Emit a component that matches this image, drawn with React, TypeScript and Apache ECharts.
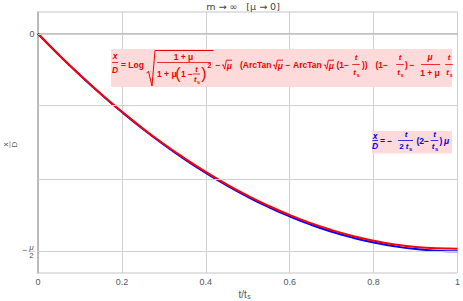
import React, { useEffect, useRef } from "react";
import * as echarts from "echarts";

// ---- data (y in units of μ/2) ----
const tau = [0, 0.05, 0.1, 0.15, 0.2, 0.25, 0.3, 0.35, 0.4, 0.45, 0.5, 0.55, 0.6, 0.65, 0.7, 0.75, 0.8, 0.85, 0.9, 0.95, 1];
const blueVals = [0, -0.0975, -0.19, -0.2775, -0.36, -0.4375, -0.51, -0.5775, -0.64, -0.6975, -0.75, -0.7975, -0.84, -0.8775, -0.91, -0.9375, -0.96, -0.9775, -0.99, -0.9975, -1];
const redVals = [0, -0.0974, -0.1895, -0.2765, -0.3585, -0.4355, -0.507, -0.5735, -0.6355, -0.6925, -0.7445, -0.7915, -0.8335, -0.8705, -0.9025, -0.9295, -0.9515, -0.9685, -0.9805, -0.9865, -0.988];
const xTickValues = [0, 0.2, 0.4, 0.6, 0.8, 1];
const yGridValues = [0, -1 / 3, -2 / 3, -1];
const yTickZero = "0";
const titleText = "m → ∞   [μ → 0]";

const FONT = '"Liberation Sans", Arial, sans-serif';
const RED = "#ee0000";
const BLUE = "#0000ee";
const GRAY = "#555555";
const GRIDC = "#d0d0d0";

type O = { color?: string; size?: number; weight?: string; italic?: boolean; align?: string; family?: string };
function txt(text: string, x: number, y: number, o: O = {}) {
  const align = o.align ?? "center";
  return {
    type: "text", x, y, silent: true, z: 101,
    style: {
      text, fill: o.color ?? GRAY, fontSize: o.size ?? 8.5, fontWeight: o.weight ?? "bold",
      fontStyle: o.italic ? "italic" : "normal", fontFamily: o.family ?? FONT,
      align, verticalAlign: "middle", textAlign: align, textVerticalAlign: "middle",
    },
  };
}
function ln(x1: number, y1: number, x2: number, y2: number, color: string, w = 0.8) {
  return { type: "line", silent: true, z: 101, shape: { x1, y1, x2, y2 }, style: { stroke: color, lineWidth: w } };
}
function poly(points: number[][], color: string, w = 0.9) {
  return { type: "polyline", silent: true, z: 101, shape: { points }, style: { stroke: color, lineWidth: w, fill: null } };
}
function tSub(cx: number, y: number, color: string, size = 8) {
  return [
    txt("t", cx - 1.3, y, { color, size, italic: true }),
    txt("s", cx + 2, y + 2, { color, size: size * 0.72 }),
  ];
}
function fracT(cx: number, yTop: number, yBar: number, yBot: number, color: string, size = 8) {
  return [
    txt("t", cx, yTop, { color, size, italic: true }),
    ln(cx - 3.8, yBar, cx + 3.8, yBar, color),
    ...tSub(cx, yBot, color, size),
  ];
}
function sqrtMu(x: number, y: number, color: string) {
  return [
    poly([[x, y + 0.5], [x + 1.2, y - 0.3], [x + 2.7, y + 4.2], [x + 4.3, y - 4.8], [x + 10, y - 4.8]], color),
    txt("μ", x + 7.2, y + 0.6, { color, italic: true }),
  ];
}

function redFormula() {
  const c = RED;
  const y = 64.5;
  return [
    { type: "rect", silent: true, z: 100, shape: { x: 111, y: 49, width: 341, height: 38 }, style: { fill: "#ffdada" } },
    txt("x", 115, 56, { color: c, italic: true }),
    ln(112, 62.5, 118, 62.5, c),
    txt("D", 115, 69.5, { color: c, italic: true }),
    txt("= Log", 121, y, { color: c, align: "left" }),
    poly([[146.5, 73], [148.5, 71.5], [152, 86], [155, 50.5], [213.5, 50.5]], c, 1),
    txt("1 + μ", 183.5, 56.5, { color: c }),
    ln(157, 62.5, 211, 62.5, c),
    txt("1 + μ", 157, 74, { color: c, align: "left" }),
    txt("(", 178, 73.5, { color: c, size: 16, weight: "normal" }),
    txt("1 −", 181, 74, { color: c, align: "left" }),
    txt("t", 196.5, 69, { color: c, size: 7.5, italic: true }),
    ln(193, 74, 200, 74, c),
    ...tSub(196.5, 79.5, c, 7.5),
    txt(")", 204, 73.5, { color: c, size: 16, weight: "normal" }),
    txt("2", 209.5, 65.5, { color: c, size: 7 }),
    txt("−", 218, y, { color: c }),
    ...sqrtMu(222, 65, c),
    txt("(ArcTan", 240, y, { color: c, align: "left" }),
    ...sqrtMu(273, 65, c),
    txt("−", 288, y, { color: c }),
    txt("ArcTan", 293, y, { color: c, align: "left" }),
    ...sqrtMu(324, 65, c),
    txt("(1−", 336.5, y, { color: c, align: "left" }),
    ...fracT(356, 57.5, 64.5, 72.5, c),
    txt("))", 362, y, { color: c, align: "left" }),
    txt("(1−", 375.5, y, { color: c, align: "left" }),
    ...fracT(400, 57.5, 64.5, 72.5, c),
    txt(")", 405, y, { color: c, align: "left" }),
    txt("−", 412, y, { color: c }),
    txt("μ", 430, 57, { color: c, italic: true }),
    ln(421, 64.5, 440, 64.5, c),
    txt("1 + μ", 430, 72.5, { color: c }),
    ...fracT(449, 57.5, 64.5, 72.5, c),
  ];
}

function blueFormula() {
  const c = BLUE;
  const y = 140.5;
  return [
    { type: "rect", silent: true, z: 100, shape: { x: 372, y: 131, width: 80, height: 22.5 }, style: { fill: "#ffdada" } },
    txt("x", 375, 135.5, { color: c, italic: true }),
    ln(372.5, y, 378, y, c),
    txt("D", 375, 146, { color: c, italic: true }),
    txt("= −", 380, y, { color: c, align: "left" }),
    txt("t", 406, 134.5, { color: c, size: 8, italic: true }),
    ln(398, y, 413, y, c),
    txt("2", 401.5, 146.5, { color: c, size: 8 }),
    ...tSub(408.5, 146.5, c, 8),
    txt("(2−", 416.5, y, { color: c, align: "left" }),
    ...fracT(434.5, 134.5, y, 146.5, c),
    txt(")", 439.5, y, { color: c, align: "left" }),
    txt("μ", 444, y, { color: c, align: "left", italic: true }),
  ];
}

export default function App() {
  const ref = useRef<HTMLDivElement>(null);
  useEffect(() => {
    if (!ref.current) return;
    const chart = echarts.init(ref.current, undefined, { renderer: "svg" });
    const option: any = {
      animation: false,
      backgroundColor: "#ffffff",
      grid: { left: 38, right: 3, top: 12, bottom: 28, show: true, borderColor: "#c4c4c4", borderWidth: 1 },
      xAxis: {
        type: "value", min: 0, max: 1, interval: 0.2,
        axisLine: { show: true, lineStyle: { color: "#b0b0b0", width: 1.5 } },
        axisTick: { show: false },
        splitLine: { show: true, lineStyle: { color: GRIDC, width: 1 } },
        axisLabel: {
          color: GRAY, fontSize: 9, fontFamily: FONT, margin: 4,
          showMinLabel: true, showMaxLabel: true,
          formatter: (v: number) => {
            const hit = xTickValues.find((t) => Math.abs(t - v) < 1e-9);
            if (hit === undefined) return "";
            return hit === 0 || hit === 1 ? String(hit) : hit.toFixed(1);
          },
        },
      },
      yAxis: {
        type: "value", min: -1.1, max: 0.1,
        axisLine: { show: true, lineStyle: { color: "#b0b0b0", width: 1.5 } },
        axisTick: { show: false },
        axisLabel: { show: false },
        splitLine: { show: false },
      },
      series: [
        {
          type: "line", data: [], z: 1, silent: true,
          markLine: {
            silent: true, symbol: ["none", "none"], label: { show: false }, animation: false,
            lineStyle: { color: GRIDC, width: 1, type: "solid" },
            emphasis: { disabled: true },
            data: yGridValues.map((v) => ({ yAxis: v })),
          },
        },
        {
          type: "line", z: 3, smooth: true, symbol: "none", silent: true,
          lineStyle: { color: "#0000ff", width: 2 },
          data: tau.map((t, i) => [t, blueVals[i]]),
        },
        {
          type: "line", z: 4, smooth: true, symbol: "none", silent: true,
          lineStyle: { color: "#ff0000", width: 2 },
          data: tau.map((t, i) => [t, redVals[i]]),
        },
      ],
    };
    chart.setOption(option);
    const p0 = chart.convertToPixel({ gridIndex: 0 }, [0, 0]) as number[];
    const p1 = chart.convertToPixel({ gridIndex: 0 }, [0, -1]) as number[];
    const pc = chart.convertToPixel({ gridIndex: 0 }, [0.5, -0.5]) as number[];
    const pb = chart.convertToPixel({ gridIndex: 0 }, [0.5, -1.1]) as number[];
    const g = "normal";
    const graphic: any[] = [
      txt(titleText, 243, 6.5, { color: "#444", size: 9.5, weight: g, family: '"DejaVu Sans", sans-serif' }),
      // x axis name t/t_s
      txt("t/t", pc[0] - 1, pb[1] + 21, { color: GRAY, size: 10, weight: g, align: "right" }),
      txt("s", pc[0] - 0.5, pb[1] + 23.5, { color: GRAY, size: 7, weight: g, align: "left" }),
      // y axis name x/D rotated
      {
        type: "group", x: 10, y: pc[1] + 2, rotation: Math.PI / 2, silent: true,
        children: [
          txt("x", 0, -4.5, { color: GRAY, size: 8, weight: g }),
          ln(-3.5, 0, 3.5, 0, "#888", 0.7),
          txt("D", 0, 4.5, { color: GRAY, size: 8, weight: g }),
        ],
      },
      // y tick labels
      txt(yTickZero, p0[0] - 3.5, p0[1], { color: GRAY, size: 9, weight: g, align: "right" }),
      txt("−", p1[0] - 13.5, p1[1] - 1.5, { color: GRAY, size: 9, weight: g }),
      txt("μ", p1[0] - 6.5, p1[1] - 4, { color: GRAY, size: 8, weight: g, italic: true }),
      ln(p1[0] - 9.5, p1[1] + 0.2, p1[0] - 3.5, p1[1] + 0.2, "#aaa", 0.6),
      txt("2", p1[0] - 6.5, p1[1] + 4.5, { color: GRAY, size: 8, weight: g }),
      ...redFormula(),
      ...blueFormula(),
    ];
    chart.setOption({ graphic });
    return () => chart.dispose();
  }, []);
  return <div ref={ref} style={{ position: "fixed", left: 0, top: 0, width: 463, height: 301, background: "#fff" }} />;
}
